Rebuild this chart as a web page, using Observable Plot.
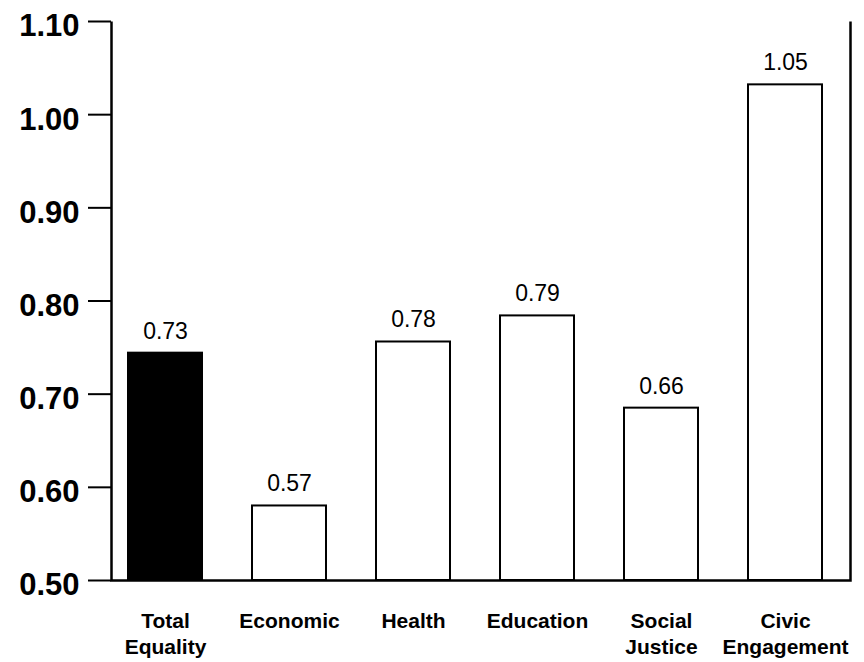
<!DOCTYPE html>
<html>
<head>
<meta charset="utf-8">
<script src="https://cdn.jsdelivr.net/npm/d3@7"></script>
<script src="https://cdn.jsdelivr.net/npm/@observablehq/plot@0.6"></script>
<style>
  html, body { margin: 0; padding: 0; background: #fff; }
  #chart { width: 864px; height: 662px; }
  svg { font-family: "Liberation Sans", Arial, sans-serif; }
</style>
</head>
<body>
<div id="chart"></div>
<script>
const categories = ["Total Equality", "Economic", "Health", "Education", "Social Justice", "Civic Engagement"];
const tickLabels = ["Total\nEquality", "Economic", "Health", "Education", "Social\nJustice", "Civic\nEngagement"];
const barValues = [0.744, 0.58, 0.756, 0.784, 0.685, 1.032];
const valueLabels = ["0.73", "0.57", "0.78", "0.79", "0.66", "1.05"];
const yTicks = [0.5, 0.6, 0.7, 0.8, 0.9, 1.0, 1.1];
const highlight = "Total Equality";

const data = categories.map((c, i) => ({cat: c, value: barValues[i], label: valueLabels[i]}));

const W = 864, H = 662;
const mL = 111, mR = 14, mT = 21, mB = 82;
const fw = W - mL - mR, fh = H - mT - mB;

const chart = Plot.plot({
  width: W,
  height: H,
  marginLeft: mL,
  marginRight: mR,
  marginTop: mT,
  marginBottom: mB,
  style: {background: "#fff", color: "#000", fontFamily: "Liberation Sans, Arial, sans-serif"},
  x: {domain: categories, range: [101, 850], paddingInner: 0.4, paddingOuter: 0.2, axis: null, label: null},
  y: {domain: [0.5, 1.1], axis: null, label: null},
  marks: [
    Plot.barY(data, {
      x: "cat", y1: 0.5, y2: "value",
      fill: d => d.cat === highlight ? "#000" : "#fff",
      stroke: "#000", strokeWidth: 2
    }),
    Plot.frame({stroke: "#000", strokeWidth: 2.5, strokeDasharray: `0 ${fw} ${fh * 2 + fw + 10}`}),
    Plot.axisY({ticks: yTicks, tickSize: 23, tickFormat: () => "", strokeWidth: 2, label: null}),
    Plot.axisY({ticks: yTicks, tickSize: 0, tickPadding: 32, dy: 5, label: null,
      tickFormat: d => d.toFixed(2), fontSize: 31, fontWeight: "bold"}),
    Plot.axisX({tickSize: 0, tickPadding: 29, fontSize: 21, fontWeight: "bold", lineHeight: 1.24, label: null,
      tickFormat: d => tickLabels[categories.indexOf(d)]}),
    Plot.text(data, {x: "cat", y: "value", text: "label", dy: -22, fontSize: 23})
  ]
});
document.getElementById("chart").appendChild(chart);
</script>
</body>
</html>
